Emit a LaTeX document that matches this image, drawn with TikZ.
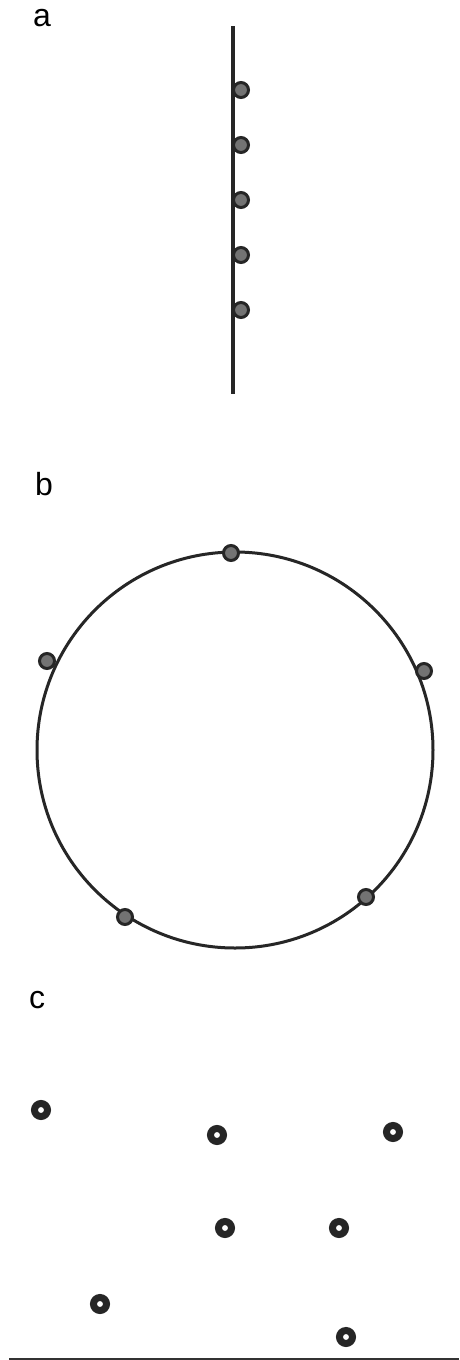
\documentclass[tikz,border=0pt]{standalone}
\usepackage{fontspec}
\setmainfont{Liberation Sans}
\begin{document}
\begin{tikzpicture}[x=1pt,y=-1pt,
  lbl/.style={font=\fontsize{32}{32}\selectfont, inner sep=0pt, anchor=center},
  gdot/.style={circle, draw=black!85, line width=3pt, fill=black!55, minimum size=15pt, inner sep=0pt},
  rdot/.style={circle, draw=black!85, line width=7pt, fill=white, minimum size=13pt, inner sep=0pt},
  line/.style={draw=black!85, line width=4pt}]
\path[use as bounding box, fill=white] (0,0) rectangle (459,1360);
% labels
\node[lbl] (la) at (42,18) {a};
\node[lbl] (lb) at (44,484) {b};
\node[lbl] (lc) at (37,1000) {c};
% panel a
\coordinate (atop) at (232.5,26);
\coordinate (abot) at (232.5,394);
\draw[line] (atop) -- (abot);
\foreach \i/\y in {1/90,2/145,3/200,4/255,5/310}
  \node[gdot] (a\i) at (241,\y) {};
% panel b
\node[circle, draw=black!85, line width=3pt, minimum size=396pt, inner sep=0pt] (ring) at (235,750) {};
\node[gdot] (b1) at (231,553) {};
\node[gdot] (b2) at (47,661) {};
\node[gdot] (b3) at (424,671) {};
\node[gdot] (b4) at (125,917) {};
\node[gdot] (b5) at (366,897) {};
% panel c
\node[rdot] (c1) at (41,1110) {};
\node[rdot] (c2) at (217,1135) {};
\node[rdot] (c3) at (393,1132) {};
\node[rdot] (c4) at (225,1228) {};
\node[rdot] (c5) at (339,1228) {};
\node[rdot] (c6) at (100,1304) {};
\node[rdot] (c7) at (346,1337) {};
\coordinate (bl) at (9,1359);
\coordinate (br) at (459,1359);
\draw[draw=black!80, line width=1.5pt] (bl) -- (br);
\end{tikzpicture}
\end{document}
